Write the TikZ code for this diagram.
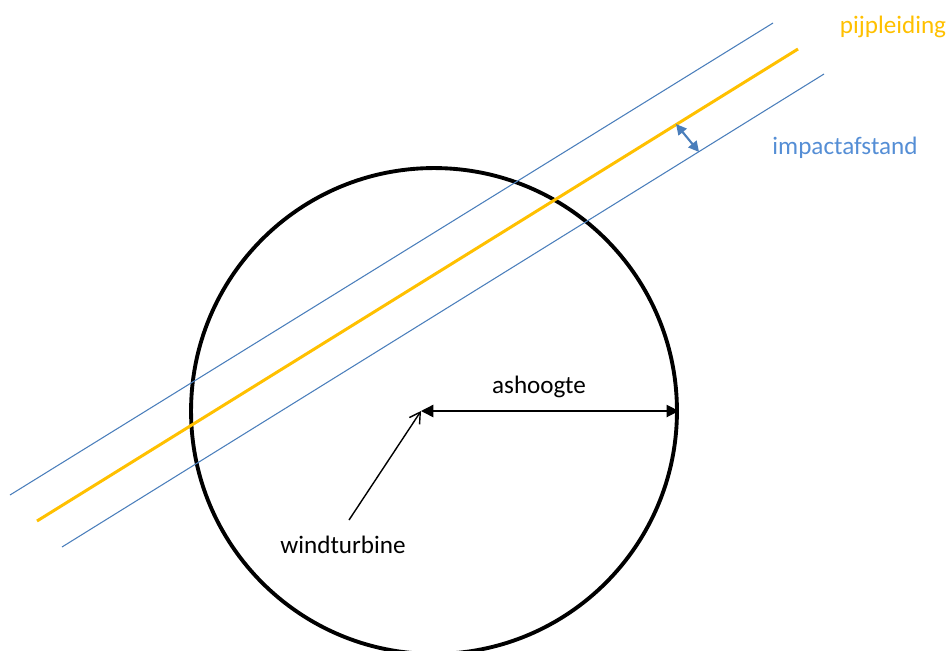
\documentclass[tikz,border=0pt]{standalone}
\usepackage{fontspec}
\setmainfont{Carlito}
\usetikzlibrary{arrows.meta}
\definecolor{pipeyellow}{HTML}{FFC000}
\definecolor{lineblue}{HTML}{4A7EBB}
\definecolor{textblue}{HTML}{558ED5}
\begin{document}
\begin{tikzpicture}[x=0.02cm,y=-0.02cm,
  lbl/.style={font=\fontsize{14.3}{17}\selectfont, inner sep=0pt},
  zone/.style={draw=lineblue, line width=0.6pt},
  pipe/.style={draw=pipeyellow, line width=1.7pt},
  blk/.style={draw=black, line width=0.8pt}]
\useasboundingbox (0,0) rectangle (949,650);
\clip (0,0) rectangle (949,650);
% circle (rotor reach)
\node[circle, draw=black, line width=2.2pt, minimum size=9.72cm, inner sep=0pt] (wt) at (434,411) {};
\coordinate (hub) at (421,411);
% lines
\coordinate (ua) at (10,495);  \coordinate (ub) at (773,23);
\coordinate (pa) at (37,521);  \coordinate (pb) at (798,49);
\coordinate (la) at (62,547);  \coordinate (lb) at (824,74);
\draw[zone] (ua) -- (ub);
\draw[pipe] (pa) -- (pb);
\draw[zone] (la) -- (lb);
% impact distance arrow
\coordinate (ia) at (676,124);
\coordinate (ib) at (699,152);
\draw[draw=lineblue, line width=1.2pt, {Triangle[length=6pt,width=6pt]}-{Triangle[length=6pt,width=6pt]}] (ia) -- (ib);
% ashoogte arrow
\draw[blk, {Triangle[length=7pt,width=7pt]}-{Triangle[length=7pt,width=7pt]}] (hub) -- (wt.east);
% labels
\node[lbl, text=pipeyellow] (pl) at (893,27) {pijpleiding};
\node[lbl, text=textblue] (ia-l) at (845,148) {impactafstand};
\node[lbl] (ash) at (539,387) {ashoogte};
\node[lbl] (wtl) at (343,545) {windturbine};
\coordinate (wts) at (349,520);
\draw[blk, -{Straight Barb[length=6pt,width=7pt]}] (wts) -- (hub);
\end{tikzpicture}
\end{document}
